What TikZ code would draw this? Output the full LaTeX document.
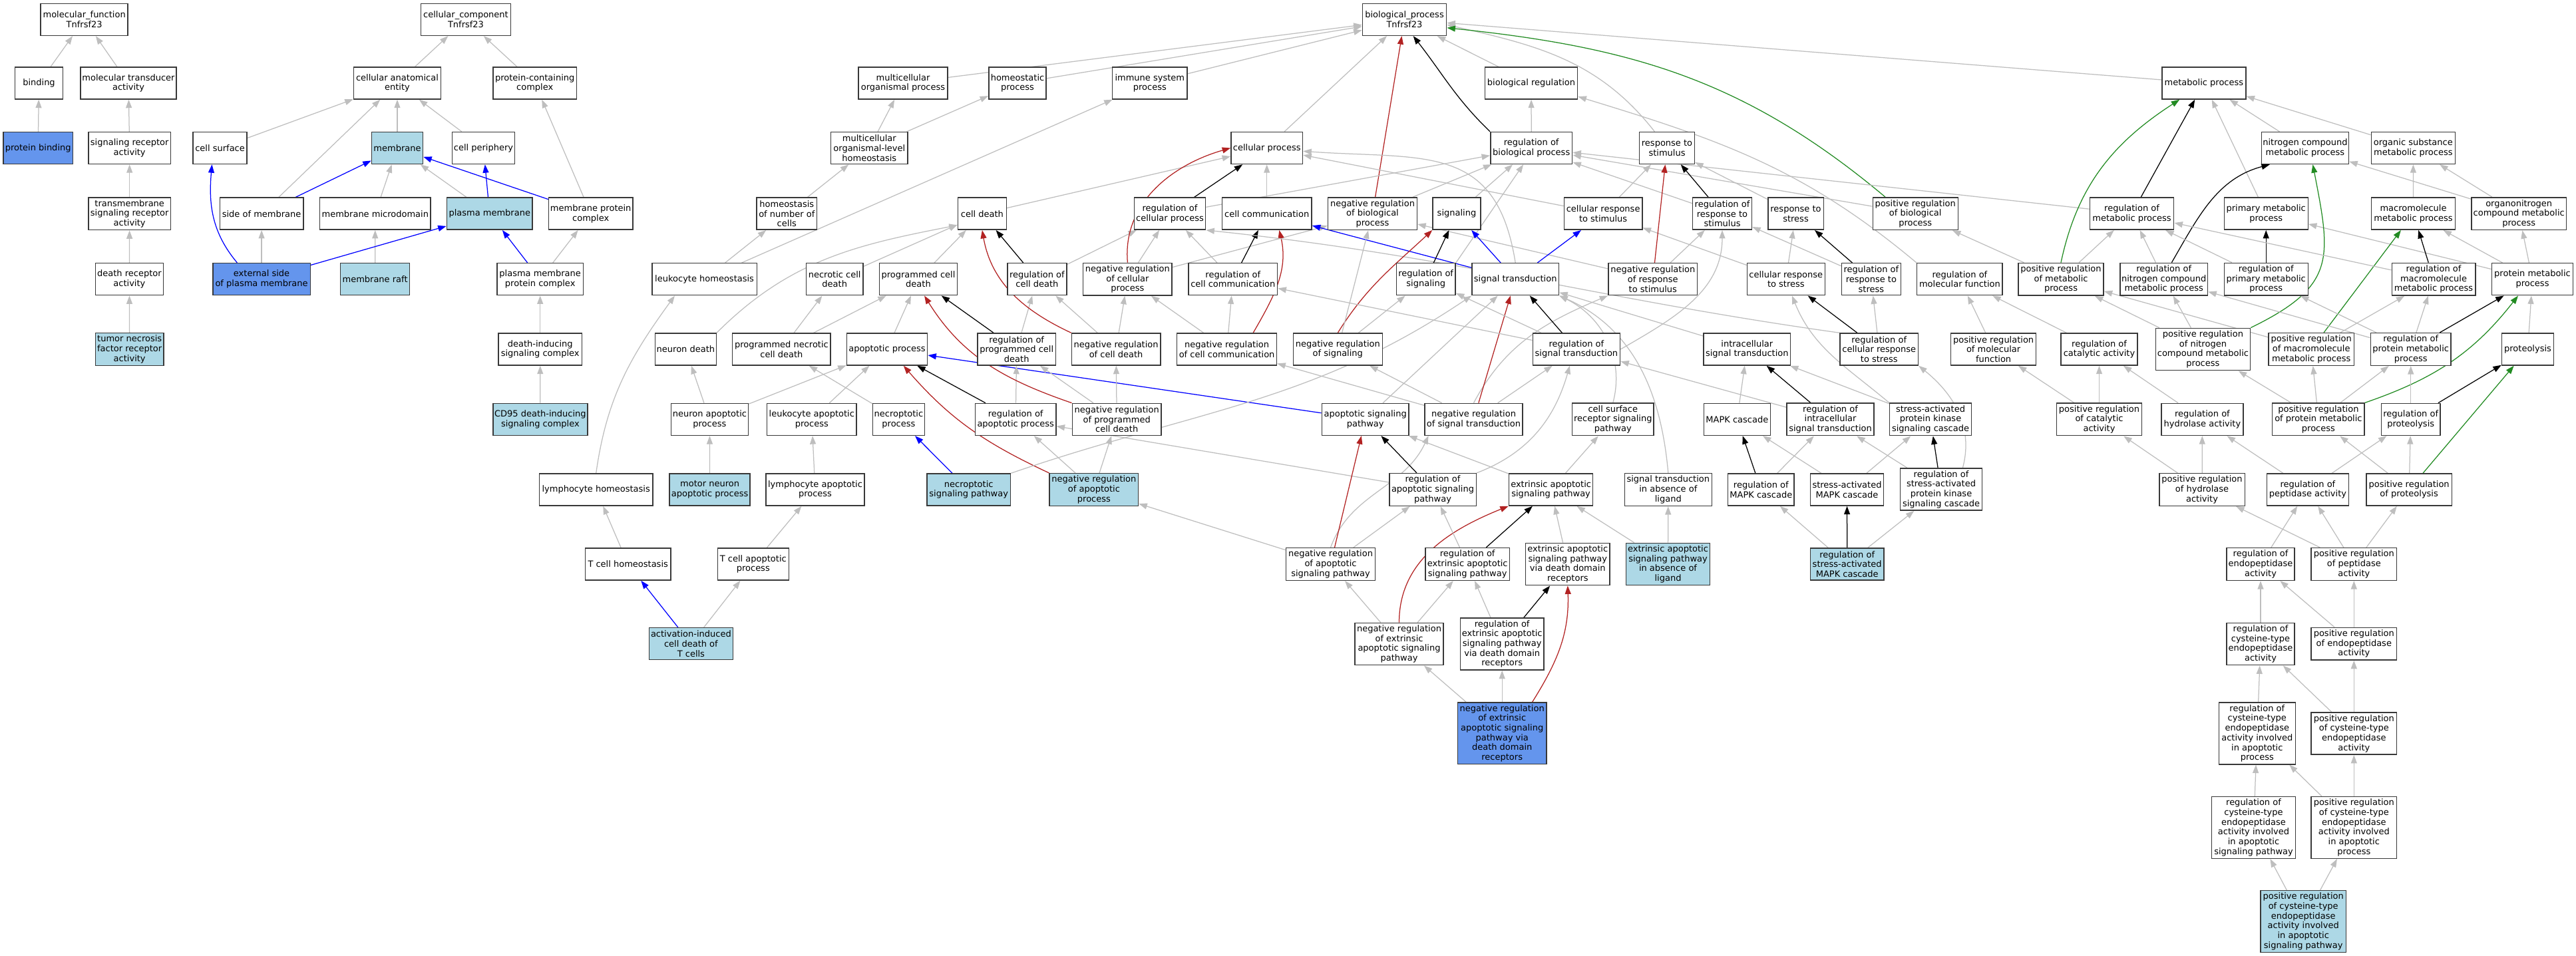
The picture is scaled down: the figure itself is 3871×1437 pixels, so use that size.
\documentclass[tikz,border=0pt]{standalone}
\usepackage{fontspec}
\setmainfont{DejaVu Sans}
\usetikzlibrary{arrows.meta,backgrounds}

\definecolor{isagray}{RGB}{190,190,190}
\definecolor{lightblue}{RGB}{173,216,230}
\definecolor{cornflower}{RGB}{100,149,237}
\definecolor{firebrick}{RGB}{178,34,34}
\definecolor{forestgreen}{RGB}{34,139,34}

\tikzset{
  term/.style={draw=black!78, line width=1.45pt, fill=white, align=center,
    inner xsep=1.5pt, inner ysep=3.35pt, minimum height=48pt,
    font=\fontsize{13}{14.7}\selectfont},
  leaf/.style={term, fill=lightblue},
  seed/.style={term, fill=cornflower},
  boxw/.style={minimum width=#1pt},
  link/.style={line width=1.25pt, -{Triangle[length=12.5pt,width=9pt]}},
  isa/.style={link, isagray},
  partof/.style={link, blue},
  reg/.style={link, black},
  negreg/.style={link, firebrick},
  posreg/.style={link, forestgreen},
}

\begin{document}
\begin{tikzpicture}[x=1pt, y=1pt]
    %%%%% START %%%%%
    \useasboundingbox (0,0) rectangle (3871,-1437);

    % rank 0
    \node[term, boxw=131] (mf) at (126.7,-29.4) {molecular\_function\\Tnfrsf23};
    \node[term, boxw=134.7] (cc) at (700,-29.4) {cellular\_component\\Tnfrsf23};
    \node[term, boxw=126.3] (bp) at (2110.5,-29.4) {biological\_process\\Tnfrsf23};

    % rank 1
    \node[term, boxw=72.4] (bind) at (58.5,-125) {binding};
    \node[term, boxw=144.4] (moltrans) at (193,-125) {molecular transducer\\activity};
    \node[term, boxw=131] (cae) at (597,-125) {cellular anatomical\\entity};
    \node[term, boxw=125.8] (pcc) at (803.7,-125) {protein-containing\\complex};
    \node[term, boxw=134] (mop) at (1357,-125) {multicellular\\organismal process};
    \node[term, boxw=86.3] (homproc) at (1529,-125) {homeostatic\\process};
    \node[term, boxw=112.8] (imsys) at (1727.8,-125) {immune system\\process};
    \node[term, boxw=139.3] (bioreg) at (2301,-125) {biological regulation};
    \node[term, boxw=125.7] (metab) at (3311.9,-125) {metabolic process};

    % rank 2
    \node[seed, boxw=104.4] (protbind) at (57.2,-222.5) {protein binding};
    \node[term, boxw=123.3] (sigrec) at (194.7,-222.5) {signaling receptor\\activity};
    \node[term, boxw=81.2] (cellsurf) at (330.6,-222.5) {cell surface};
    \node[leaf, boxw=77] (membrane) at (597,-222.5) {membrane};
    \node[term, boxw=94.3] (cellperiph) at (726.5,-222.5) {cell periphery};
    \node[term, boxw=115.8] (molh) at (1306.3,-222.5) {multicellular\\organismal-level\\homeostasis};
    \node[term, boxw=107.7] (cellproc) at (1903.7,-222.5) {cellular process};
    \node[term, boxw=122.9] (regbp) at (2301.2,-222.5) {regulation of\\biological process};
    \node[term, boxw=82.9] (respstim) at (2505,-222.5) {response to\\stimulus};
    \node[term, boxw=131.1] (ncmp) at (3463.9,-222.5) {nitrogen compound\\metabolic process};
    \node[term, boxw=126] (osmp) at (3626.3,-222.5) {organic substance\\metabolic process};

    % rank 3
    \node[term, boxw=123.3] (tmsig) at (194.7,-321.2) {transmembrane\\signaling receptor\\activity};
    \node[term, boxw=125.4] (sidemem) at (393.1,-321.2) {side of membrane};
    \node[term, boxw=166.3] (memmicro) at (563.8,-321.2) {membrane microdomain};
    \node[leaf, boxw=128.8] (plasmem) at (735.8,-321.2) {plasma membrane};
    \node[term, boxw=126.3] (memprot) at (887.7,-321.2) {membrane protein\\complex};
    \node[term, boxw=90.9] (homnum) at (1182.3,-321.2) {homeostasis\\of number of\\cells};
    \node[term, boxw=72.8] (celldeath) at (1475.9,-321.2) {cell death};
    \node[term, boxw=107.3] (regcp) at (1758,-321.2) {regulation of\\cellular process};
    \node[term, boxw=134.7] (cellcomm) at (1903.7,-321.2) {cell communication};
    \node[term, boxw=133.8] (negbp) at (2062.5,-321.2) {negative regulation\\of biological\\process};
    \node[term, boxw=72] (signaling) at (2189,-321.2) {signaling};
    \node[term, boxw=117.4] (cellrespstim) at (2409.1,-321.2) {cellular response\\to stimulus};
    \node[term, boxw=88.8] (regrespstim) at (2588,-321.2) {regulation of\\response to\\stimulus};
    \node[term, boxw=83.4] (respstress) at (2698.5,-321.2) {response to\\stress};
    \node[term, boxw=128] (posbp) at (2878.2,-321.2) {positive regulation\\of biological\\process};
    \node[term, boxw=126.3] (regmp) at (3203.5,-321.2) {regulation of\\metabolic process};
    \node[term, boxw=126] (primmp) at (3405.2,-321.2) {primary metabolic\\process};
    \node[term, boxw=125.6] (macromp) at (3626.5,-321.2) {macromolecule\\metabolic process};
    \node[term, boxw=142.4] (orgnmp) at (3785.2,-321.2) {organonitrogen\\compound metabolic\\process};

    % rank 4
    \node[term, boxw=101.9] (deathrec) at (194.4,-419.7) {death receptor\\activity};
    \node[seed, boxw=146.4] (extside) at (393.1,-419.7) {external side\\of plasma membrane};
    \node[leaf, boxw=104.3] (memraft) at (563.6,-419.7) {membrane raft};
    \node[term, boxw=129.2] (pmprot) at (811.7,-419.7) {plasma membrane\\protein complex};
    \node[term, boxw=157.4] (leukhom) at (1058.6,-419.7) {leukocyte homeostasis};
    \node[term, boxw=85.9] (necrotic) at (1254.2,-419.7) {necrotic cell\\death};
    \node[term, boxw=117.4] (pcd) at (1380,-419.7) {programmed cell\\death};
    \node[term, boxw=88.8] (regcd) at (1558.4,-419.7) {regulation of\\cell death};
    \node[term, boxw=133.4] (negcp) at (1694.4,-419.7) {negative regulation\\of cellular\\process};
    \node[term, boxw=133.8] (regcc) at (1852.8,-419.7) {regulation of\\cell communication};
    \node[term, boxw=88.8] (regsig) at (2142.7,-419.7) {regulation of\\signaling};
    \node[term, boxw=130.5] (sigtrans) at (2277.2,-419.7) {signal transduction};
    \node[term, boxw=133.8] (negrespstim) at (2483.8,-419.7) {negative regulation\\of response\\to stimulus};
    \node[term, boxw=117] (cellrespstress) at (2683.8,-419.7) {cellular response\\to stress};
    \node[term, boxw=88.8] (regrespstress) at (2811.9,-419.7) {regulation of\\response to\\stress};
    \node[term, boxw=128.4] (regmf) at (2944.9,-419.7) {regulation of\\molecular function};
    \node[term, boxw=128] (posmp) at (3097,-419.7) {positive regulation\\of metabolic\\process};
    \node[term, boxw=131.6] (regncmp) at (3251.7,-419.7) {regulation of\\nitrogen compound\\metabolic process};
    \node[term, boxw=126] (regprimmp) at (3405.2,-419.7) {regulation of\\primary metabolic\\process};
    \node[term, boxw=125.6] (regmacromp) at (3657,-419.7) {regulation of\\macromolecule\\metabolic process};
    \node[term, boxw=121.7] (protmp) at (3805.5,-419.7) {protein metabolic\\process};

    % rank 5
    \node[leaf, boxw=102.3] (tnfr) at (194.7,-525) {tumor necrosis\\factor receptor\\activity};
    \node[term, boxw=125.8] (disc) at (811.7,-525) {death-inducing\\signaling complex};
    \node[term, boxw=91.7] (neurondeath) at (1030.4,-525) {neuron death};
    \node[term, boxw=147.3] (pnecrotic) at (1174.4,-525) {programmed necrotic\\cell death};
    \node[term, boxw=121.3] (apoproc) at (1333,-525) {apoptotic process};
    \node[term, boxw=117.4] (regpcd) at (1527.7,-525) {regulation of\\programmed cell\\death};
    \node[term, boxw=133.4] (negcd) at (1677.1,-525) {negative regulation\\of cell death};
    \node[term, boxw=149.8] (negcc) at (1843.6,-525) {negative regulation\\of cell communication};
    \node[term, boxw=134] (negsig) at (2010.3,-525) {negative regulation\\of signaling};
    \node[term, boxw=131.3] (regst) at (2368.9,-525) {regulation of\\signal transduction};
    \node[term, boxw=130.5] (intrast) at (2625.3,-525) {intracellular\\signal transduction};
    \node[term, boxw=117.4] (regcrs) at (2823.7,-525) {regulation of\\cellular response\\to stress};
    \node[term, boxw=128] (posmf) at (2995.6,-525) {positive regulation\\of molecular\\function};
    \node[term, boxw=114.9] (regcat) at (3154.5,-525) {regulation of\\catalytic activity};
    \node[term, boxw=142.3] (posncmp) at (3310.4,-525) {positive regulation\\of nitrogen\\compound metabolic\\process};
    \node[term, boxw=128.5] (posmacromp) at (3473.2,-525) {positive regulation\\of macromolecule\\metabolic process};
    \node[term, boxw=120.9] (regprotmp) at (3622.7,-525) {regulation of\\protein metabolic\\process};
    \node[term, boxw=77.9] (proteolysis) at (3798.5,-525) {proteolysis};

    % rank 6
    \node[leaf, boxw=142.2] (cd95) at (811.9,-630.4) {CD95 death-inducing\\signaling complex};
    \node[term, boxw=115.7] (neuronap) at (1066.4,-630.4) {neuron apoptotic\\process};
    \node[term, boxw=134.7] (leukap) at (1219.8,-630.4) {leukocyte apoptotic\\process};
    \node[term, boxw=77.9] (necroptotic) at (1350.4,-630.4) {necroptotic\\process};
    \node[term, boxw=121.2] (regap) at (1526.2,-630.4) {regulation of\\apoptotic process};
    \node[term, boxw=133.9] (negpcd) at (1678.2,-630.4) {negative regulation\\of programmed\\cell death};
    \node[term, boxw=130.9] (apsig) at (2051.7,-630.4) {apoptotic signaling\\pathway};
    \node[term, boxw=147.3] (negst) at (2214.5,-630.4) {negative regulation\\of signal transduction};
    \node[term, boxw=122.4] (csrsp) at (2423.8,-630.4) {cell surface\\receptor signaling\\pathway};
    \node[term, boxw=99.8] (mapk) at (2610.3,-630.4) {MAPK cascade};
    \node[term, boxw=130.9] (regintrast) at (2750.5,-630.4) {regulation of\\intracellular\\signal transduction};
    \node[term, boxw=122.9] (sapk) at (2901,-630.4) {stress-activated\\protein kinase\\signaling cascade};
    \node[term, boxw=128.4] (poscat) at (3154.5,-630.4) {positive regulation\\of catalytic\\activity};
    \node[term, boxw=123.3] (reghydro) at (3309.4,-630.4) {regulation of\\hydrolase activity};
    \node[term, boxw=138.4] (posprotmp) at (3483.9,-630.4) {positive regulation\\of protein metabolic\\process};
    \node[term, boxw=88.9] (regproteolysis) at (3622.7,-630.4) {regulation of\\proteolysis};

    % rank 7
    \node[term, boxw=170.8] (lymphhom) at (895.7,-736) {lymphocyte homeostasis};
    \node[leaf, boxw=121.2] (motorap) at (1066.6,-736) {motor neuron\\apoptotic process};
    \node[term, boxw=147.7] (lymphap) at (1225,-736) {lymphocyte apoptotic\\process};
    \node[leaf, boxw=125.8] (necrosig) at (1455.7,-736) {necroptotic\\signaling pathway};
    \node[leaf, boxw=133.4] (negap) at (1643.9,-736) {negative regulation\\of apoptotic\\process};
    \node[term, boxw=130.5] (regapsig) at (2153,-736) {regulation of\\apoptotic signaling\\pathway};
    \node[term, boxw=126.2] (extap) at (2330.6,-736) {extrinsic apoptotic\\signaling pathway};
    \node[term, boxw=130.9] (stal) at (2506.8,-736) {signal transduction\\in absence of\\ligand};
    \node[term, boxw=99.4] (regmapk) at (2646.3,-736) {regulation of\\MAPK cascade};
    \node[term, boxw=110.3] (samapk) at (2775.5,-736) {stress-activated\\MAPK cascade};
    \node[term, boxw=122.9] (regsapk) at (2917,-735.5) {regulation of\\stress-activated\\protein kinase\\signaling cascade};
    \node[term, boxw=128.4] (poshydro) at (3309,-736) {positive regulation\\of hydrolase\\activity};
    \node[term, boxw=123.1] (regpept) at (3467.9,-736) {regulation of\\peptidase activity};
    \node[term, boxw=128.2] (posproteolysis) at (3620.1,-736) {positive regulation\\of proteolysis};

    % rank 8
    \node[term, boxw=128.8] (tcellhom) at (943.7,-848) {T cell homeostasis};
    \node[term, boxw=106.9] (tcellap) at (1131.8,-848) {T cell apoptotic\\process};
    \node[term, boxw=134.3] (negapsig) at (1999.5,-848) {negative regulation\\of apoptotic\\signaling pathway};
    \node[term, boxw=126.3] (regextap) at (2205.2,-848) {regulation of\\extrinsic apoptotic\\signaling pathway};
    \node[term, boxw=126.3] (extapdd) at (2355.8,-848) {extrinsic apoptotic\\signaling pathway\\via death domain\\receptors};
    \node[leaf, boxw=126.2] (extapal) at (2506.5,-848) {extrinsic apoptotic\\signaling pathway\\in absence of\\ligand};
    \node[leaf, boxw=110.7] (regsamapk) at (2775.7,-848) {regulation of\\stress-activated\\MAPK cascade};
    \node[term, boxw=102.3] (regendo) at (3397,-848) {regulation of\\endopeptidase\\activity};
    \node[term, boxw=128.5] (pospept) at (3537.3,-848) {positive regulation\\of peptidase\\activity};

    % rank 9
    \node[leaf, boxw=126.3] (aicd) at (1038.4,-967.7) {activation-induced\\cell death of\\T cells};
    \node[term, boxw=133] (negextap) at (2102.5,-968) {negative regulation\\of extrinsic\\apoptotic signaling\\pathway};
    \node[term, boxw=125.9] (regextapdd) at (2257.2,-968) {regulation of\\extrinsic apoptotic\\signaling pathway\\via death domain\\receptors};
    \node[term, boxw=102.3] (regcys) at (3397,-968) {regulation of\\cysteine-type\\endopeptidase\\activity};
    \node[term, boxw=128.5] (posendo) at (3537.3,-967.7) {positive regulation\\of endopeptidase\\activity};

    % rank 10
    \node[seed, boxw=133.5] (negextapdd) at (2257.2,-1102.2) {negative regulation\\of extrinsic\\apoptotic signaling\\pathway via\\death domain\\receptors};
    \node[term, boxw=115.1] (regcysap) at (3391.8,-1102.4) {regulation of\\cysteine-type\\endopeptidase\\activity involved\\in apoptotic\\process};
    \node[term, boxw=128.5] (poscys) at (3537.3,-1102.5) {positive regulation\\of cysteine-type\\endopeptidase\\activity};

    % rank 11
    \node[term, boxw=125.6] (regcysasp) at (3386.5,-1243.9) {regulation of\\cysteine-type\\endopeptidase\\activity involved\\in apoptotic\\signaling pathway};
    \node[term, boxw=128.5] (poscysap) at (3537.3,-1243.9) {positive regulation\\of cysteine-type\\endopeptidase\\activity involved\\in apoptotic\\process};

    % rank 12
    \node[leaf, boxw=128.5] (poscysasp) at (3461.2,-1385) {positive regulation\\of cysteine-type\\endopeptidase\\activity involved\\in apoptotic\\signaling pathway};

    \begin{scope}[on background layer]
    % molecular function
    \draw[isa] (bind) -- (mf);
    \draw[isa] (moltrans) -- (mf);
    \draw[isa] (protbind) -- (bind);
    \draw[isa] (sigrec) -- (moltrans);
    \draw[isa] (tmsig) -- (sigrec);
    \draw[isa] (deathrec) -- (tmsig);
    \draw[isa] (tnfr) -- (deathrec);

    % cellular component
    \draw[isa] (cae) -- (cc);
    \draw[isa] (pcc) -- (cc);
    \draw[isa] (cellsurf) -- (cae);
    \draw[isa] (sidemem) -- (cae);
    \draw[isa] (membrane) -- (cae);
    \draw[isa] (cellperiph) -- (cae);
    \draw[isa] (plasmem) -- (membrane);
    \draw[isa] (memmicro) -- (membrane);
    \draw[isa] (extside) -- (sidemem);
    \draw[isa] (memraft) -- (memmicro);
    \draw[isa] (memprot) -- (pcc);
    \draw[isa] (pmprot) -- (memprot);
    \draw[isa] (disc) -- (pmprot);
    \draw[isa] (cd95) -- (disc);
    \draw[partof] (sidemem) -- (membrane);
    \draw[partof] (memprot) -- (membrane);
    \draw[partof] (plasmem) -- (cellperiph);
    \draw[partof] (pmprot) -- (plasmem);
    \draw[partof] (extside) -- (plasmem);
    \draw[partof] (extside.146) to[out=130, in=-95] (cellsurf.-116);

    % biological process
    \draw[isa] (mop) -- (bp);
    \draw[isa] (homproc) -- (bp);
    \draw[isa] (imsys) -- (bp);
    \draw[isa] (cellproc) -- (bp);
    \draw[isa] (bioreg) -- (bp);
    \draw[isa] (metab) -- (bp);
    \draw[isa] (respstim.127) to[out=128, in=-13] (bp.-7);
    \draw[reg] (regbp.north west) to[out=136, in=-52] (bp.-62);
    \draw[negreg] (negbp) -- (bp);
    \draw[posreg] (posbp.151) to[out=140, in=-6] (bp.-11);

    % homeostasis
    \draw[isa] (molh) -- (mop);
    \draw[isa] (molh) -- (homproc);
    \draw[isa] (homnum) -- (molh);
    \draw[isa] (leukhom) -- (homnum);
    \draw[isa] (leukhom) -- (imsys);
    \draw[isa] (lymphhom.north) to[out=82, in=-126] (leukhom.-151);
    \draw[isa] (tcellhom) -- (lymphhom);
    \draw[isa] (tcellap) -- (lymphap);
    \draw[isa] (lymphap) -- (leukap);
    \draw[isa] (motorap) -- (neuronap);
    \draw[isa] (aicd) -- (tcellap);
    \draw[partof] (aicd) -- (tcellhom);

    % cell death
    \draw[isa] (neurondeath.north east) to[out=45, in=191] (celldeath.205);
    \draw[isa] (necrotic) -- (celldeath);
    \draw[isa] (pnecrotic) -- (necrotic);
    \draw[isa] (pnecrotic) -- (pcd);
    \draw[isa] (necroptotic) -- (pnecrotic);
    \draw[isa] (neuronap) -- (neurondeath);
    \draw[isa] (neuronap) -- (apoproc);
    \draw[isa] (leukap) -- (apoproc);
    \draw[isa] (pcd) -- (celldeath);
    \draw[isa] (apoproc) -- (pcd);
    \draw[partof] (necrosig) -- (necroptotic);
    \draw[partof] (apsig) -- (apoproc);
    \draw[reg] (regcd) -- (celldeath);
    \draw[reg] (regpcd) -- (pcd);
    \draw[reg] (regap) -- (apoproc);
    \draw[isa] (regcd) -- (regcp);
    \draw[isa] (regpcd) -- (regcd);
    \draw[isa] (regap) -- (regpcd);
    \draw[isa] (negcd) -- (regcd);
    \draw[isa] (negcd) -- (negcp);
    \draw[isa] (negpcd) -- (regpcd);
    \draw[isa] (negpcd) -- (negcd);
    \draw[isa] (negap) -- (regap);
    \draw[isa] (negap) -- (negpcd);
    \draw[isa] (regapsig) -- (regap);
    \draw[isa] (negapsig) -- (negap);
    \draw[negreg] (negcd.north west) to[out=155, in=-80] (celldeath.south);
    \draw[negreg] (negpcd.north west) to[out=161, in=-58] (pcd.-70);
    \draw[negreg] (negap.north west) to[out=155, in=-49] (apoproc.-45);

    % cellular process
    \draw[isa] (celldeath) -- (cellproc);
    \draw[isa] (cellcomm) -- (cellproc);
    \draw[isa] (cellrespstim) -- (cellproc);
    \draw[isa] (sigtrans.north) to[out=99, in=-4, looseness=1.3] (cellproc.-5);
    \draw[isa] (regcc) -- (regcp);
    \draw[isa] (negcp) -- (regcp);
    \draw[isa] (negcc) -- (regcc);
    \draw[isa] (negcc) -- (negcp);
    \draw[isa] (regcp) -- (regbp);
    \draw[isa] (negcp) -- (negbp);
    \draw[reg] (regcp) -- (cellproc);
    \draw[reg] (regcc) -- (cellcomm);
    \draw[negreg] (negcp.north) to[out=95, in=196] (cellproc.west);
    \draw[negreg] (negcc.32) to[out=60, in=-77] (cellcomm.-53);
    \draw[partof] (sigtrans) -- (cellcomm);

    % regulation and response
    \draw[isa] (regbp) -- (bioreg);
    \draw[isa] (negbp) -- (regbp);
    \draw[isa] (regsig.north east) -- (regbp.-116);
    \draw[isa] (signaling) -- (regbp);
    \draw[isa] (regrespstim) -- (regbp);
    \draw[isa] (posbp) -- (regbp);
    \draw[isa] (regmp) -- (regbp);
    \draw[isa] (regmf.north west) to[out=140, in=-17] (bioreg.-16);
    \draw[isa] (cellrespstim) -- (respstim);
    \draw[isa] (respstress) -- (respstim);
    \draw[isa] (negrespstim) -- (regrespstim);
    \draw[isa] (negrespstim) -- (negbp);
    \draw[isa] (cellrespstress) -- (cellrespstim);
    \draw[isa] (cellrespstress) -- (respstress);
    \draw[isa] (regrespstress) -- (regrespstim);
    \draw[isa] (regst.east) to[out=30, in=-90] (regrespstim.south);
    \draw[isa] (negst.north) to[out=62, in=203] (negrespstim.south west);
    \draw[isa] (regcrs) -- (regrespstress);
    \draw[isa] (regcrs.north west) to[out=172, in=-6] (regcp.south east);
    \draw[reg] (regrespstim) -- (respstim);
    \draw[reg] (regrespstress) -- (respstress);
    \draw[reg] (regcrs) -- (cellrespstress);
    \draw[negreg] (negrespstim) -- (respstim);

    % signaling
    \draw[partof] (sigtrans) -- (signaling);
    \draw[partof] (sigtrans) -- (cellrespstim);
    \draw[reg] (regsig) -- (signaling);
    \draw[reg] (regst) -- (sigtrans);
    \draw[negreg] (negsig.north) to[out=58, in=-137] (signaling.south west);
    \draw[negreg] (negst) -- (sigtrans);
    \draw[isa] (negsig) -- (negbp);
    \draw[isa] (negsig) -- (regsig);
    \draw[isa] (regst) -- (regsig);
    \draw[isa] (regst) -- (regcc);
    \draw[isa] (negst) -- (regst);
    \draw[isa] (negst) -- (negsig);
    \draw[isa] (negst) -- (negcc);
    \draw[isa] (apsig) -- (sigtrans);
    \draw[isa] (necrosig.north east) to[out=19, in=-146] (sigtrans.south west);
    \draw[isa] (intrast) -- (sigtrans);
    \draw[isa] (csrsp.north) to[out=75, in=-26] (sigtrans.south east);
    \draw[isa] (stal.north) to[out=95, in=-24] (sigtrans.south east);
    \draw[isa] (regintrast) -- (regst);
    \draw[isa] (regapsig.north east) to[out=21, in=-106] (regst.-112);
    \draw[isa] (negapsig.north) to[out=70, in=-115] (negst.-160);

    % apoptotic signaling
    \draw[reg] (regapsig) -- (apsig);
    \draw[reg] (regextap) -- (extap);
    \draw[reg] (regextapdd) -- (extapdd);
    \draw[negreg] (negapsig) -- (apsig);
    \draw[negreg] (negextap.north) to[out=90, in=202] (extap.south west);
    \draw[negreg] (negextapdd.46) to[out=58, in=-88] (extapdd.south);
    \draw[isa] (extap) -- (apsig);
    \draw[isa] (extap) -- (csrsp);
    \draw[isa] (regextap) -- (regapsig);
    \draw[isa] (negapsig) -- (regapsig);
    \draw[isa] (extapdd) -- (extap);
    \draw[isa] (extapal) -- (extap);
    \draw[isa] (extapal) -- (stal);
    \draw[isa] (negextap) -- (negapsig);
    \draw[isa] (negextap) -- (regextap);
    \draw[isa] (regextapdd) -- (regextap);
    \draw[isa] (negextapdd) -- (negextap);
    \draw[isa] (negextapdd) -- (regextapdd);

    % MAPK
    \draw[isa] (mapk) -- (intrast);
    \draw[isa] (regmapk) -- (regintrast);
    \draw[isa] (samapk) -- (mapk);
    \draw[isa] (samapk) -- (sapk);
    \draw[isa] (sapk) -- (intrast);
    \draw[isa] (sapk.north west) to[out=140, in=-68] (cellrespstress.-70);
    \draw[isa] (regsapk) -- (regintrast);
    \draw[isa] (regsapk.45) to[out=75, in=-39] (regcrs.south east);
    \draw[isa] (regsamapk) -- (regmapk);
    \draw[isa] (regsamapk) -- (regsapk);
    \draw[reg] (regintrast) -- (intrast);
    \draw[reg] (regmapk) -- (mapk);
    \draw[reg] (regsamapk) -- (samapk);
    \draw[reg] (regsapk) -- (sapk);

    % metabolism
    \draw[isa] (primmp) -- (metab);
    \draw[isa] (ncmp) -- (metab);
    \draw[isa] (osmp) -- (metab);
    \draw[isa] (orgnmp) -- (ncmp);
    \draw[isa] (macromp) -- (osmp);
    \draw[isa] (orgnmp) -- (osmp);
    \draw[isa] (protmp) -- (primmp);
    \draw[isa] (protmp) -- (macromp);
    \draw[isa] (protmp) -- (orgnmp);
    \draw[isa] (proteolysis) -- (protmp);
    \draw[reg] (regmp) -- (metab);
    \draw[reg] (regncmp.65) to[out=60, in=-165] (ncmp.-155);
    \draw[reg] (regprimmp) -- (primmp);
    \draw[reg] (regmacromp) -- (macromp);
    \draw[reg] (regprotmp) -- (protmp);
    \draw[reg] (regproteolysis) -- (proteolysis);
    \draw[posreg] (posmp.north) to[out=78, in=-147] (metab.-146);
    \draw[posreg] (posncmp.north east) to[out=26, in=-79, looseness=1.4] (ncmp.-65);
    \draw[posreg] (posmacromp) -- (macromp);
    \draw[posreg] (posprotmp.north east) to[out=19, in=-128] (protmp.-131);
    \draw[posreg] (posproteolysis) -- (proteolysis);
    \draw[isa] (posmp) -- (posbp);
    \draw[isa] (posmp) -- (regmp);
    \draw[isa] (regncmp) -- (regmp);
    \draw[isa] (posncmp) -- (posmp);
    \draw[isa] (posncmp) -- (regncmp);
    \draw[isa] (regprimmp) -- (regmp);
    \draw[isa] (regmacromp) -- (regmp);
    \draw[isa] (posmacromp) -- (posmp);
    \draw[isa] (posmacromp) -- (regmacromp);
    \draw[isa] (regprotmp) -- (regncmp);
    \draw[isa] (regprotmp) -- (regprimmp);
    \draw[isa] (regprotmp) -- (regmacromp);
    \draw[isa] (posprotmp) -- (posncmp);
    \draw[isa] (posprotmp) -- (posmacromp);
    \draw[isa] (posprotmp) -- (regprotmp);
    \draw[isa] (regproteolysis) -- (regprotmp);
    \draw[isa] (posproteolysis) -- (posprotmp);
    \draw[isa] (posproteolysis) -- (regproteolysis);

    % molecular function regulation
    \draw[isa] (posmf) -- (regmf);
    \draw[isa] (regcat) -- (regmf);
    \draw[isa] (poscat) -- (regcat);
    \draw[isa] (poscat) -- (posmf);
    \draw[isa] (reghydro) -- (regcat);
    \draw[isa] (poshydro) -- (poscat);
    \draw[isa] (poshydro) -- (reghydro);
    \draw[isa] (regpept) -- (reghydro);
    \draw[isa] (regpept) -- (regproteolysis);
    \draw[isa] (regendo) -- (regpept);
    \draw[isa] (pospept) -- (poshydro);
    \draw[isa] (pospept) -- (regpept);
    \draw[isa] (pospept) -- (posproteolysis);
    \draw[isa] (regcys) -- (regendo);
    \draw[isa] (posendo) -- (regendo);
    \draw[isa] (posendo) -- (pospept);
    \draw[isa] (regcysap) -- (regcys);
    \draw[isa] (poscys) -- (regcys);
    \draw[isa] (poscys) -- (posendo);
    \draw[isa] (regcysasp) -- (regcysap);
    \draw[isa] (poscysap) -- (regcysap);
    \draw[isa] (poscysap) -- (poscys);
    \draw[isa] (poscysasp) -- (regcysasp);
    \draw[isa] (poscysasp) -- (poscysap);
    \end{scope}

    %%%%% END %%%%%
\end{tikzpicture}
\end{document}
